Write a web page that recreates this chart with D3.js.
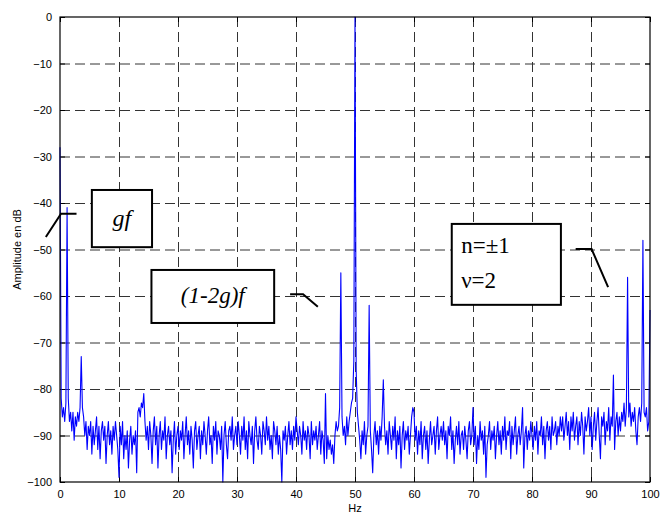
<!DOCTYPE html>
<html><head><meta charset="utf-8">
<script src="https://cdn.jsdelivr.net/npm/d3@7"></script>
<style>body{margin:0;background:#fff}svg{display:block}
.tk text, .ttl{font-family:"Liberation Sans", Arial, Helvetica, sans-serif;font-size:11px;fill:#000}
.ann{font-family:"Times New Roman", Times, serif;fill:#000}
</style>
</head><body>
<script>
const freqStep = 0.2;
const amplitudes = [
 -28,-82,-86,-84,-87,-83,-41,-82,-87,-85,-89,-85,-91,-86,-88,-85,-87,-84,-73,-84,-86,-90,-87,-93,-88,
 -90,-87,-94,-88,-92,-89,-86,-93,-88,-95,-89,-87,-91,-88,-96,-90,-87,-92,-89,-94,-88,-91,-87,-90,-93,
 -99,-88,-92,-87,-95,-90,-93,-89,-97,-91,-88,-94,-90,-92,-89,-98,-85,-84,-86,-83,-84,-81,-87,-91,-88,
 -93,-87,-90,-96,-89,-86,-92,-88,-97,-90,-87,-93,-89,-91,-86,-95,-90,-88,-92,-89,-98,-91,-87,-94,-90,
 -88,-93,-89,-91,-87,-95,-90,-86,-92,-89,-94,-88,-91,-97,-89,-87,-93,-90,-88,-95,-89,-92,-87,-90,-94,
 -89,-86,-92,-90,-96,-88,-91,-87,-94,-89,-90,-93,-88,-100,-90,-87,-92,-95,-89,-88,-91,-86,-93,-90,-88,
 -92,-87,-90,-94,-88,-91,-86,-93,-89,-95,-87,-90,-92,-88,-96,-89,-86,-91,-93,-88,-90,-94,-87,-89,-92,
 -86,-91,-88,-93,-90,-95,-87,-89,-92,-88,-94,-90,-93,-100,-89,-91,-88,-94,-90,-87,-92,-89,-93,-88,-91,
 -86,-89,-92,-88,-90,-94,-87,-91,-89,-93,-88,-90,-95,-87,-92,-89,-91,-88,-93,-90,-87,-94,-89,-91,-96,
 -81,-95,-90,-93,-91,-94,-92,-96,-90,-87,-89,-88,-84,-55,-86,-90,-88,-92,-86,-90,-87,-85,-83,-82,-74,
 0,-76,-85,-88,-91,-95,-89,-92,-87,-94,-90,-88,-62,-89,-93,-98,-90,-87,-92,-89,-94,-88,-91,-86,-78,
 -88,-92,-89,-94,-87,-90,-93,-88,-91,-86,-95,-89,-92,-88,-97,-90,-87,-93,-89,-91,-88,-94,-90,-86,-84,
 -85,-91,-88,-94,-89,-92,-87,-95,-90,-88,-93,-89,-96,-91,-87,-92,-90,-88,-94,-89,-86,-93,-90,-88,-91,
 -87,-92,-89,-95,-88,-90,-86,-93,-89,-96,-91,-88,-92,-87,-94,-90,-89,-93,-88,-91,-95,-89,-87,-92,-90,
 -84,-92,-88,-96,-90,-93,-87,-91,-89,-94,-88,-99,-92,-90,-87,-93,-89,-91,-88,-95,-90,-87,-92,-89,-94,
 -88,-91,-86,-93,-89,-90,-87,-95,-88,-92,-89,-86,-94,-90,-88,-92,-89,-84,-97,-90,-88,-93,-89,-91,-87,
 -90,-93,-88,-91,-87,-94,-89,-90,-86,-92,-88,-95,-89,-87,-91,-88,-93,-86,-90,-89,-87,-92,-88,-90,-86,
 -89,-86,-91,-88,-85,-90,-87,-93,-86,-89,-85,-91,-88,-86,-92,-87,-90,-85,-88,-94,-86,-89,-87,-84,-90,
 -86,-93,-88,-85,-91,-87,-84,-90,-95,-86,-88,-85,-92,-87,-89,-84,-91,-86,-88,-77,-93,-87,-85,-90,-86,
 -89,-85,-87,-83,-88,-84,-56,-86,-83,-88,-85,-87,-84,-89,-92,-86,-84,-87,-83,-48,-85,-86,-84,-89,-87,
 -63
];
const xTicks = [0,10,20,30,40,50,60,70,80,90,100];
const yTicks = [-100,-90,-80,-70,-60,-50,-40,-30,-20,-10,0];
const xTitle = "Hz";
const yTitle = "Amplitude en dB";

const W = 667, H = 516;
const svg = d3.select("body").append("svg").attr("width", W).attr("height", H);
const x = d3.scaleLinear().domain([0,100]).range([60,650]);
const y = d3.scaleLinear().domain([-100,0]).range([482,17]);

// grid
const grid = svg.append("g").attr("stroke", "#333").attr("stroke-width", 1).attr("stroke-dasharray", "10,5");
grid.selectAll(".gx").data(xTicks.slice(1,-1)).enter().append("line")
  .attr("x1", d => x(d)+0.5).attr("x2", d => x(d)+0.5).attr("y1", y(0)).attr("y2", y(-100));
grid.selectAll(".gy").data(yTicks.slice(1,-1)).enter().append("line")
  .attr("y1", d => y(d)+0.5).attr("y2", d => y(d)+0.5).attr("x1", x(0)).attr("x2", x(100));

// axes
const axB = d3.axisBottom(x).tickValues(xTicks).tickSizeInner(-5).tickSizeOuter(0).tickPadding(8);
const axT = d3.axisTop(x).tickValues(xTicks).tickSizeInner(-5).tickSizeOuter(0).tickFormat("");
const axL = d3.axisLeft(y).tickValues(yTicks).tickSizeInner(-5).tickSizeOuter(0).tickPadding(8);
const axR = d3.axisRight(y).tickValues(yTicks).tickSizeInner(-5).tickSizeOuter(0).tickFormat("");
function style(g){ g.attr("class","tk").attr("font-family", null).attr("font-size", null);
  g.select(".domain").remove(); g.selectAll("line").attr("stroke","#000"); }
svg.append("g").attr("transform", `translate(0,${y(-100)})`).call(axB).call(style);
svg.append("g").attr("transform", `translate(0,${y(0)})`).call(axT).call(style);
svg.append("g").attr("transform", `translate(${x(0)},0)`).call(axL).call(style);
svg.append("g").attr("transform", `translate(${x(100)},0)`).call(axR).call(style);

// spectrum
const line = d3.line().x((d,i) => x(i*freqStep)).y(d => y(d));
svg.append("path").datum(amplitudes).attr("d", line)
  .attr("fill","none").attr("stroke","#0000ff").attr("stroke-width",1.1).attr("stroke-linejoin","round");

// frame
svg.append("rect").attr("x", x(0)).attr("y", y(0)).attr("width", x(100)-x(0)).attr("height", y(-100)-y(0))
  .attr("fill","none").attr("stroke","#000").attr("stroke-width",1.2);

// titles
svg.append("text").attr("class","ttl").attr("x", (x(0)+x(100))/2).attr("y", 512).attr("text-anchor","middle").text(xTitle);
svg.append("text").attr("class","ttl").attr("transform", `translate(21,${(y(0)+y(-100))/2}) rotate(-90)`)
  .attr("text-anchor","middle").text(yTitle);

// annotations (data coordinates)
const boxes = [
  {x0:5.4, x1:15.6, y0:-37.2, y1:-49.5},
  {x0:15.5, x1:36.3, y0:-54.4, y1:-65.8},
  {x0:66.4, x1:84.9, y0:-44.5, y1:-61.9}
];
boxes.forEach(b => svg.append("rect").attr("x", x(b.x0)).attr("y", y(b.y0))
  .attr("width", x(b.x1)-x(b.x0)).attr("height", y(b.y1)-y(b.y0))
  .attr("fill","#fff").attr("stroke","#000").attr("stroke-width",2));
const leaders = [
  [[-2.4,-47.3],[0.17,-42.3],[2.8,-42.3]],
  [[39.0,-59.6],[41.2,-59.6],[43.7,-62.3]],
  [[87.4,-49.9],[90.1,-49.9],[92.9,-58.1]]
];
const ll = d3.line().x(d => x(d[0])).y(d => y(d[1]));
leaders.forEach(p => svg.append("path").attr("d", ll(p)).attr("fill","none").attr("stroke","#000").attr("stroke-width",2));
svg.append("text").attr("class","ann").attr("x", x(10.5)).attr("y", y(-45)).attr("text-anchor","middle")
  .attr("font-style","italic").attr("font-size", 24).text("gf");
svg.append("text").attr("class","ann").attr("x", x(25.9)).attr("y", y(-61.6)).attr("text-anchor","middle")
  .attr("font-style","italic").attr("font-size", 23).text("(1-2g)f");
svg.append("text").attr("class","ann").attr("x", x(68.0)).attr("y", y(-50.8)).attr("font-size", 23).text("n=±1");
svg.append("text").attr("class","ann").attr("x", x(68.0)).attr("y", y(-58.3)).attr("font-size", 23).text("ν=2");
</script>
</body></html>
